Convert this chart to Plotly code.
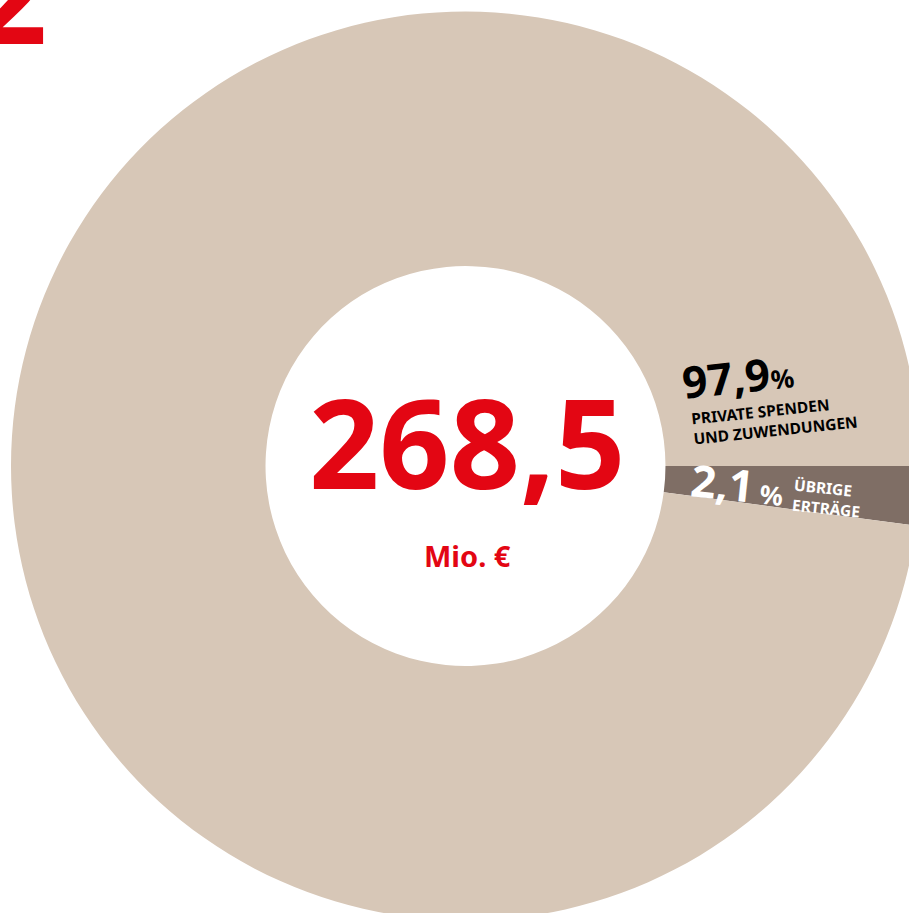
import plotly.graph_objects as go

# ---- data ----
categories = ["ÜBRIGE ERTRÄGE", "PRIVATE SPENDEN UND ZUWENDUNGEN"]
shares = [2.1, 97.9]          # percent
total = "268,5"
unit = "Mio. €"
page_number = "2"

# figure is slightly larger than the window: the donut runs past the right/bottom edge
W, H = 931, 932
CX, CY, R = 465.5, 466.0, 454.5   # donut centre / radius in pixels
beige = "#D7C7B7"
grey = "#7F6E65"
red = "#E30613"
FONT = "Noto Sans"


def px(x):
    return x / W


def py(y):
    return 1 - y / H


def fmt(v):
    return f"{v:.1f}".replace(".", ",")


fig = go.Figure(
    go.Pie(
        labels=categories,
        values=shares,
        hole=0.44,
        sort=False,
        direction="clockwise",
        rotation=90,
        marker=dict(colors=[grey, beige], line=dict(width=0)),
        textinfo="none",
        hoverinfo="label+percent",
        showlegend=False,
        domain=dict(x=[px(CX - R), px(CX + R)], y=[py(CY + R), py(CY - R)]),
    )
)

ann = []
# centre total
ann.append(dict(x=px(467), y=py(441), text=f"<b>{total}</b>",
                font=dict(family=FONT, size=123, color=red)))
ann.append(dict(x=px(467), y=py(555), text=f"<b>{unit}</b>",
                font=dict(family=FONT, size=29, color=red)))

# large slice label
ann.append(dict(x=px(738), y=py(376),
                text=f"<b>{fmt(shares[1])}<span style='font-size:26px'>%</span></b>",
                font=dict(family=FONT, size=44, color="black"), textangle=-6))
big_lbl = categories[1].split(" UND ")
ann.append(dict(x=px(774), y=py(420),
                text=f"<b>{big_lbl[0]}<br>UND {big_lbl[1]}</b>", align="left",
                font=dict(family=FONT, size=15.5, color="black"), textangle=-6))

# small slice label
ann.append(dict(x=px(737), y=py(484),
                text=f"<b>{fmt(shares[0])}<span style='font-size:26px'> %</span></b>",
                font=dict(family=FONT, size=44, color="white"), textangle=6))
small_lbl = categories[0].split(" ")
ann.append(dict(x=px(827), y=py(498),
                text=f"<b>{small_lbl[0]}<br>{small_lbl[1]}</b>", align="left",
                font=dict(family=FONT, size=15.5, color="white"), textangle=6))

# page number fragment (top-left, partially outside)
ann.append(dict(x=px(49), y=py(84), xanchor="right", yanchor="bottom",
                text=f"<b>{page_number}</b>",
                font=dict(family=FONT, size=130, color=red)))

for a in ann:
    a.setdefault("xref", "paper")
    a.setdefault("yref", "paper")
    a.setdefault("showarrow", False)
    a.setdefault("xanchor", "center")
    a.setdefault("yanchor", "middle")

fig.update_layout(
    width=W, height=H,
    margin=dict(l=0, r=0, t=0, b=0),
    paper_bgcolor="white", plot_bgcolor="white",
    annotations=ann,
)

fig.write_html(
    "out.html",
    config={"displayModeBar": False},
    post_script="document.body.style.margin='0';document.body.style.overflow='hidden';",
)
